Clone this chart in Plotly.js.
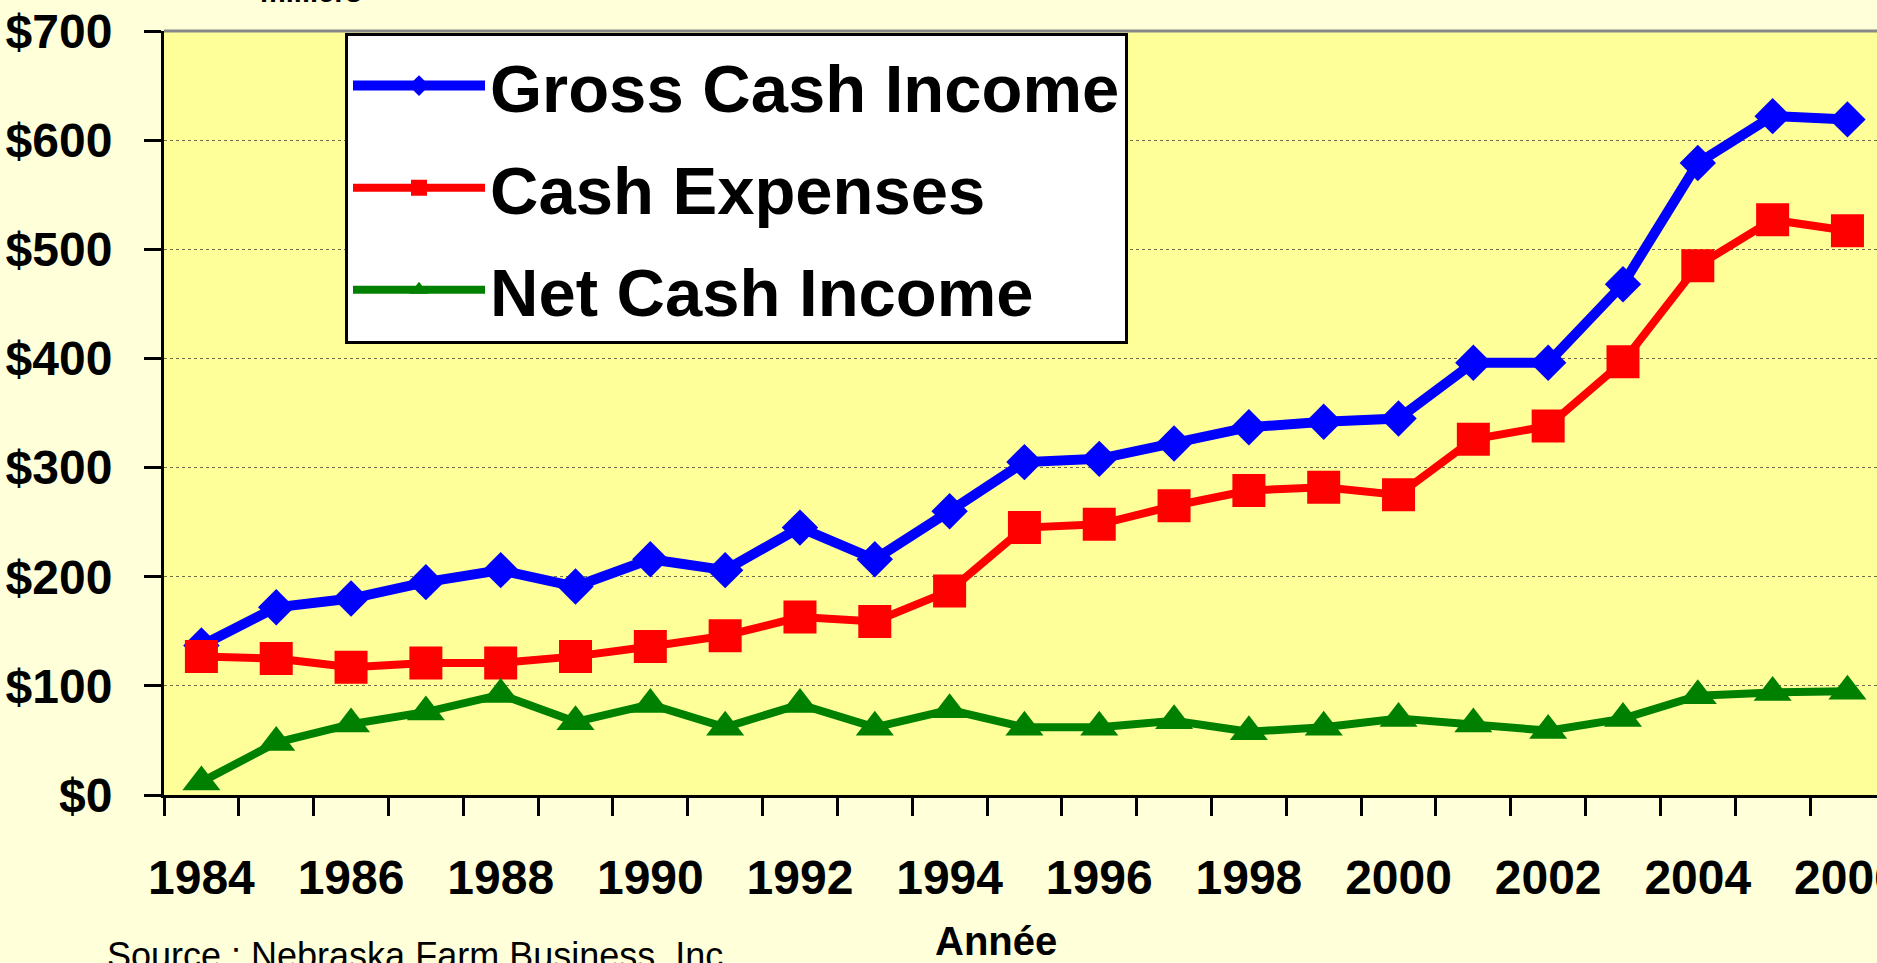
<!DOCTYPE html>
<html>
<head>
<meta charset="utf-8">
<script src="https://cdn.plot.ly/plotly-3.0.1.min.js"></script>
<style>
  html, body { margin: 0; padding: 0; background: #FFFFD9; }
  #chart { width: 1877px; height: 963px; }
</style>
</head>
<body>
<div id="chart"></div>
<script>
// ---- data (thousands of dollars) ----
const years = [1984,1985,1986,1987,1988,1989,1990,1991,1992,1993,1994,1995,1996,1997,1998,1999,2000,2001,2002,2003,2004,2005,2006];
const grossCashIncome = [137,172,180,195,206,191,216,206,245,216,260,305,308,322,337,342,345,396,396,468,579,622,619];
const cashExpenses    = [127,125,117,121,121,127,136,146,163,159,187,245,248,265,279,282,275,326,338,397,485,527,517];
const netCashIncome   = [12,48,65,76,92,67,83,62,83,62,78,62,62,68,58,62,70,65,59,70,91,94,95];
const seriesNames = ['Gross Cash Income', 'Cash Expenses', 'Net Cash Income'];
const xTickVals = [1984,1986,1988,1990,1992,1994,1996,1998,2000,2002,2004,2006];
const xTickText = ['1984','1986','1988','1990','1992','1994','1996','1998','2000','2002','2004','2006'];
const yTickVals = [0,100,200,300,400,500,600,700];
const yTickText = ['$0','$100','$200','$300','$400','$500','$600','$700'];
const unitLabel = 'milliers';
const xAxisLabel = 'Année';
const sourceText = 'Source : Nebraska Farm Business, Inc.';

// category boundaries (ticks between categories)
const boundaries = years.map(y => y - 0.5).concat([years[years.length - 1] + 0.5]);

const FONT = 'Liberation Sans, Arial, sans-serif';

const traces = [
  {
    x: years, y: grossCashIncome, name: seriesNames[0], legendgroup: 'g1',
    type: 'scatter', mode: 'lines+markers',
    line: { color: '#0000FF', width: 10 },
    marker: { symbol: 'diamond', size: 28, color: '#0000FF' }
  },
  {
    x: years, y: cashExpenses, name: seriesNames[1], legendgroup: 'g2',
    type: 'scatter', mode: 'lines+markers',
    line: { color: '#FF0000', width: 8 },
    marker: { symbol: 'square', size: 33, color: '#FF0000' }
  },
  {
    x: years, y: netCashIncome, name: seriesNames[2], legendgroup: 'g3',
    type: 'scatter', mode: 'lines+markers',
    line: { color: '#008000', width: 8 },
    marker: { symbol: 'triangle-up', size: 33, color: '#008000' }
  }
];

const plotLeft = 164, plotTop = 31, plotBottom = 795, W = 1877, H = 963;
const pxPerYear = 74.82;
const xMin = 1983.5;
const xMax = xMin + (W - plotLeft) / pxPerYear;

const layout = {
  width: W, height: H,
  paper_bgcolor: '#FFFFD9',
  plot_bgcolor: '#FFFF99',
  margin: { l: plotLeft, r: 0, t: plotTop, b: H - plotBottom, pad: 0 },
  font: { family: FONT, color: '#000000' },
  showlegend: true,
  legend: {
    x: (345 - plotLeft) / (W - plotLeft), y: 0.998,
    xanchor: 'left', yanchor: 'top',
    bgcolor: '#FFFFFF', bordercolor: '#000000', borderwidth: 3,
    font: { family: FONT, size: 67, weight: 'bold', color: '#000000' },
    itemwidth: 132,
    tracegroupgap: 12,
    traceorder: 'grouped'
  },
  xaxis: {
    range: [xMin, xMax],
    tickmode: 'array', tickvals: xTickVals, ticktext: xTickText,
    ticks: '', showgrid: false, zeroline: false,
    showline: true, linecolor: '#000000', linewidth: 3,
    tickfont: { family: FONT, size: 48, weight: 'bold', color: '#000000' },
    ticklabelstandoff: 38,
    ticklabeloverflow: 'allow',
    minor: { tickmode: 'array', tickvals: boundaries, ticks: 'outside', ticklen: 18, tickwidth: 3, tickcolor: '#000000', showgrid: false },
    fixedrange: true
  },
  yaxis: {
    range: [0, 700],
    tickmode: 'array', tickvals: yTickVals, ticktext: yTickText,
    ticks: 'outside', ticklen: 17, tickwidth: 3, tickcolor: '#000000',
    showgrid: true, gridcolor: '#707050', gridwidth: 1, griddash: 'dot',
    zeroline: false,
    showline: true, linecolor: '#000000', linewidth: 3,
    tickfont: { family: FONT, size: 48, weight: 'bold', color: '#000000' },
    ticklabelstandoff: 22,
    ticklabeloverflow: 'allow',
    fixedrange: true
  },
  shapes: [
    { type: 'line', xref: 'paper', yref: 'paper', x0: 0, x1: 1, y0: 1, y1: 1,
      line: { color: '#888888', width: 3 }, layer: 'above' }
  ],
  annotations: [
    { text: unitLabel, xref: 'paper', yref: 'paper', x: (258 - plotLeft) / (W - plotLeft), y: 1 + (plotTop - 10) / (plotBottom - plotTop),
      xanchor: 'left', yanchor: 'bottom', showarrow: false,
      font: { family: FONT, size: 29, weight: 'bold', color: '#000000' } },
    { text: xAxisLabel, xref: 'paper', yref: 'paper', x: (996 - plotLeft) / (W - plotLeft), y: (plotBottom - 917) / (plotBottom - plotTop),
      xanchor: 'center', yanchor: 'top', showarrow: false,
      font: { family: FONT, size: 40, weight: 'bold', color: '#000000' } },
    { text: sourceText, xref: 'paper', yref: 'paper', x: (105 - plotLeft) / (W - plotLeft), y: (plotBottom - 933) / (plotBottom - plotTop),
      xanchor: 'left', yanchor: 'top', showarrow: false,
      font: { family: FONT, size: 36, color: '#000000' } }
  ]
};

Plotly.newPlot('chart', traces, layout, { displayModeBar: false, staticPlot: true });
</script>
</body>
</html>
